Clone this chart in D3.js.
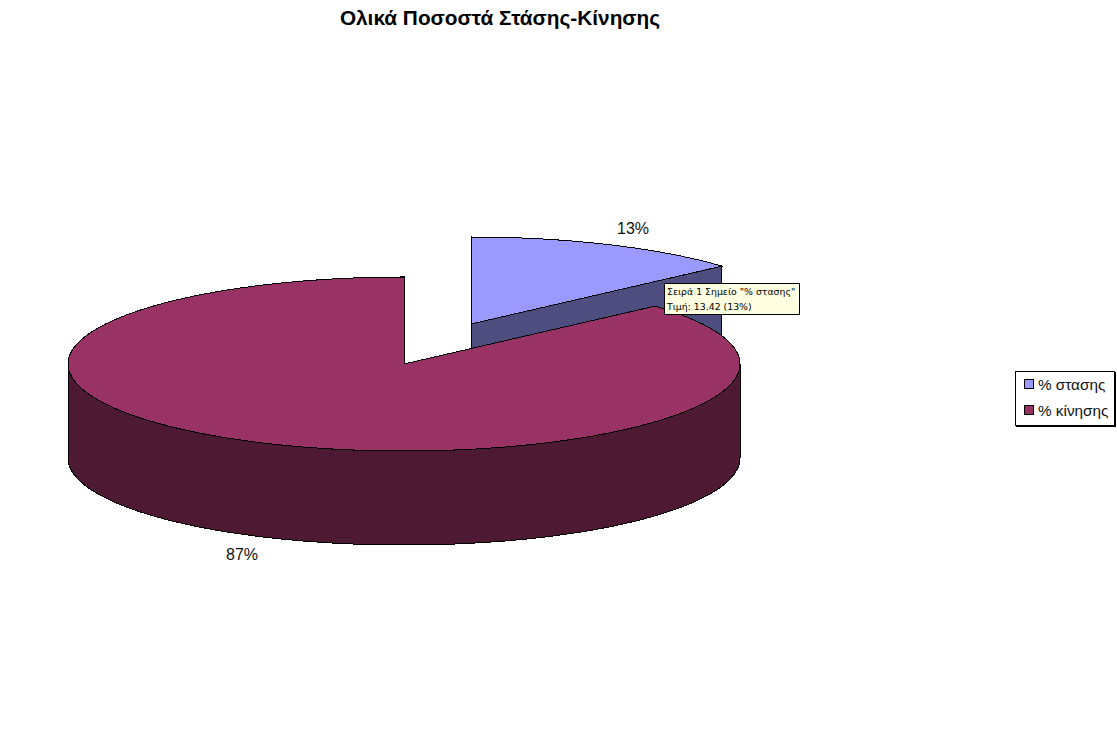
<!DOCTYPE html>
<html><head><meta charset="utf-8">
<script src="https://cdn.jsdelivr.net/npm/d3@7/dist/d3.min.js"></script>
<style>
html,body{margin:0;padding:0;background:#fff;overflow:hidden}
svg{display:block;font-family:"Liberation Sans",Arial,sans-serif}
</style></head><body>
<script>
const title = "Ολικά Ποσοστά Στάσης-Κίνησης";
const categories = ["% στασης", "% κίνησης"];
const values = [13.42, 86.58];
const topColors = ["#9999FF", "#993366"];
const sideColors = ["#4D4D80", "#4D1933"];
const percentLabels = ["13%", "87%"];
const tooltipLines = ['Σειρά 1 Σημείο "% στασης"', 'Τιμή: 13.42 (13%)'];

const W = 1117, H = 731;
const cx = 404, cy = 364, rx = 336, ry = 87, depth = 94;
const explode = [[67, -40], [0, 0]];

const svg = d3.select("body").append("svg").attr("width", W).attr("height", H);
svg.append("rect").attr("width", W).attr("height", H).attr("fill", "#fff");

svg.append("text").attr("x", 500).attr("y", 25).attr("text-anchor", "middle")
  .attr("font-size", 20.8).attr("font-weight", "bold").attr("fill", "#000").text(title);

const arcs = d3.pie().sort(null)(values);
const px = d3.scaleLinear().domain([-1, 1]).range([cx - rx, cx + rx]);
const py = d3.scaleLinear().domain([-1, 1]).range([cy + ry, cy - ry]);
const pt = (a, i, dz = 0) => [px(Math.sin(a)) + explode[i][0], py(Math.cos(a)) + explode[i][1] + dz];
const center = (i, dz = 0) => [px(0) + explode[i][0], py(0) + explode[i][1] + dz];
const samples = (a0, a1) => d3.range(0, 241).map(k => a0 + (a1 - a0) * k / 240);
const line = d3.line();

function topPath(d, i) {
  return line([center(i), ...samples(d.startAngle, d.endAngle).map(a => pt(a, i))]) + "Z";
}
function wallPath(a0, a1, i) {
  const s = samples(a0, a1);
  return line([...s.map(a => pt(a, i)), ...s.slice().reverse().map(a => pt(a, i, depth))]) + "Z";
}
function cutPath(a, i) {
  return line([center(i), pt(a, i), pt(a, i, depth), center(i, depth)]) + "Z";
}

const g = svg.append("g").attr("stroke", "#000").attr("stroke-width", 1)
  .attr("shape-rendering", "crispEdges");

// exploded slice
g.append("path").attr("d", cutPath(arcs[0].endAngle, 0)).attr("fill", sideColors[0]);
g.append("path").attr("d", topPath(arcs[0], 0)).attr("fill", topColors[0]);
// main slice
g.append("path").attr("d", wallPath(Math.PI / 2, 3 * Math.PI / 2, 1)).attr("fill", sideColors[1]);
g.append("path").attr("d", topPath(arcs[1], 1)).attr("fill", topColors[1]);

// data labels
const labelPos = [[633, 234], [242, 560]];
svg.selectAll("text.pct").data(percentLabels).join("text").attr("class", "pct")
  .attr("x", (d, i) => labelPos[i][0]).attr("y", (d, i) => labelPos[i][1])
  .attr("text-anchor", "middle").attr("font-size", 16).attr("fill", "#111").text(d => d);

// legend
const lg = svg.append("g").attr("shape-rendering", "crispEdges");
lg.append("rect").attr("x", 1015.5).attr("y", 371.5).attr("width", 99).attr("height", 54)
  .attr("fill", "#fff").attr("stroke", "#000");
lg.append("path").attr("d", "M1016 426.5H1115.5V372").attr("fill", "none").attr("stroke", "#000");
categories.forEach((c, i) => {
  const y = 379.5 + i * 26;
  lg.append("rect").attr("x", 1024.5).attr("y", y).attr("width", 9).attr("height", 9)
    .attr("fill", topColors[i]).attr("stroke", "#000");
  lg.append("text").attr("x", 1038).attr("y", y + 10).attr("font-size", 15.3)
    .attr("shape-rendering", "auto").attr("fill", "#111").text(c);
});

// tooltip
const tg = svg.append("g");
tg.append("rect").attr("x", 664.5).attr("y", 283.5).attr("width", 135).attr("height", 31)
  .attr("fill", "#FFFFE1").attr("stroke", "#000").attr("shape-rendering", "crispEdges");
tooltipLines.forEach((t, i) => {
  tg.append("text").attr("x", 667).attr("y", 295 + i * 15).attr("font-family", "'DejaVu Sans'")
    .attr("font-size", 9.35).attr("fill", "#000").text(t);
});
</script>
</body></html>
